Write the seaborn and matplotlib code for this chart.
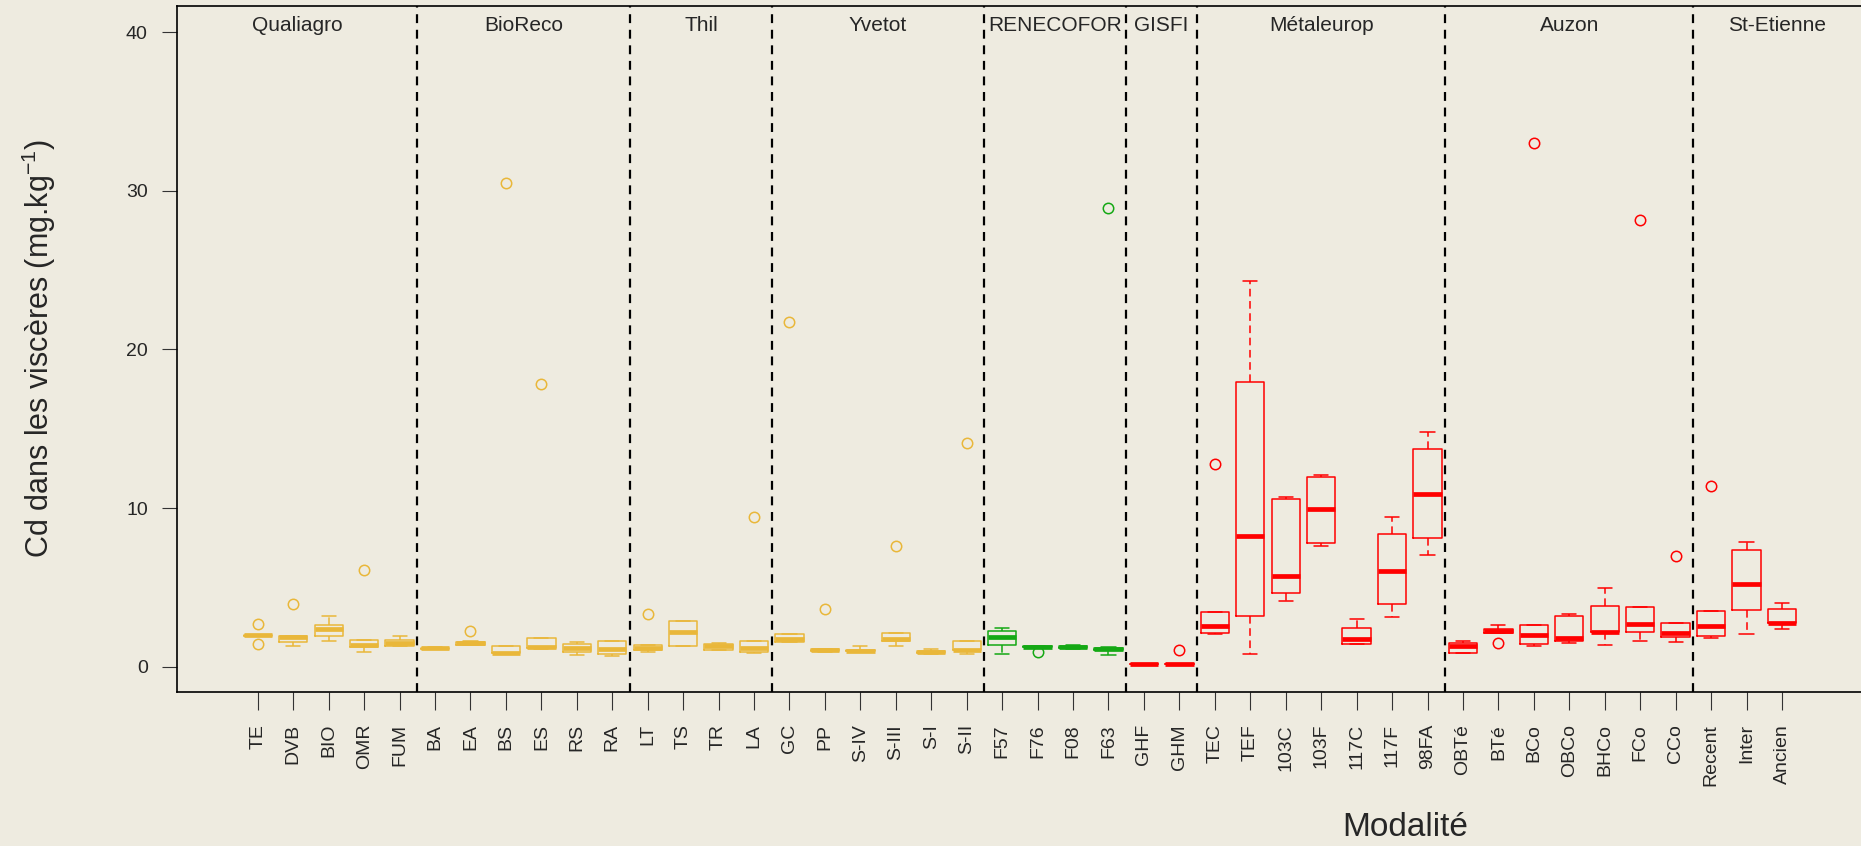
import numpy as np
import pandas as pd
import seaborn as sns
import matplotlib.pyplot as plt

# sites (groups of modalities) and their colours
sites = ["Qualiagro", "BioReco", "Thil", "Yvetot", "RENECOFOR", "GISFI",
         "Métaleurop", "Auzon", "St-Etienne"]
site_n = [5, 6, 4, 6, 4, 2, 7, 7, 3]
site_col = ["#E9B73A"] * 4 + ["#14A814"] + ["#FF0000"] * 4

names = ["TE", "DVB", "BIO", "OMR", "FUM",
         "BA", "EA", "BS", "ES", "RS", "RA",
         "LT", "TS", "TR", "LA",
         "GC", "PP", "S-IV", "S-III", "S-I", "S-II",
         "F57", "F76", "F08", "F63",
         "GHF", "GHM",
         "TEC", "TEF", "103C", "103F", "117C", "117F", "98FA",
         "OBTé", "BTé", "BCo", "OBCo", "BHCo", "FCo", "CCo",
         "Recent", "Inter", "Ancien"]

# five-number summaries
lo = [1.92, 1.30, 1.64, 0.91, 1.33,
      1.10, 1.35, 0.82, 1.14, 0.74, 0.66,
      0.91, 1.29, 1.05, 0.85,
      1.56, 0.93, 0.93, 1.30, 0.82, 0.82,
      0.80, 1.20, 1.10, 0.74,
      0.15, 0.15,
      2.06, 0.82, 4.16, 7.59, 1.40, 3.11, 7.02,
      0.88, 2.13, 1.30, 1.47, 1.39, 1.62, 1.54,
      1.81, 2.04, 2.38]
q1 = [1.92, 1.54, 1.96, 1.22, 1.33,
      1.12, 1.38, 0.84, 1.16, 0.91, 0.82,
      1.03, 1.29, 1.05, 0.93,
      1.56, 0.98, 0.96, 1.64, 0.86, 1.05,
      1.37, 1.22, 1.15, 1.05,
      0.16, 0.16,
      2.10, 3.18, 4.67, 7.82, 1.45, 3.93, 8.09,
      0.88, 2.15, 1.45, 1.64, 2.21, 2.19, 1.87,
      1.96, 3.60, 2.78]
med = [1.97, 1.87, 2.36, 1.39, 1.51,
       1.16, 1.49, 0.88, 1.22, 1.16, 1.10,
       1.16, 2.21, 1.30, 1.18,
       1.72, 1.07, 0.99, 1.72, 0.91, 1.07,
       1.89, 1.24, 1.22, 1.14,
       0.17, 0.17,
       2.55, 8.26, 5.72, 9.96, 1.73, 6.03, 10.87,
       1.33, 2.27, 1.98, 1.79, 2.21, 2.71, 2.12,
       2.54, 5.24, 2.78]
q3 = [2.02, 1.96, 2.63, 1.66, 1.68,
      1.20, 1.56, 1.30, 1.79, 1.41, 1.62,
      1.39, 2.86, 1.43, 1.64,
      2.06, 1.10, 1.04, 2.14, 1.00, 1.64,
      2.23, 1.27, 1.30, 1.18,
      0.18, 0.18,
      3.45, 17.97, 10.55, 11.94, 2.46, 8.35, 13.73,
      1.47, 2.38, 2.61, 3.18, 3.85, 3.76, 2.77,
      3.53, 7.36, 3.62]
hi = [2.02, 1.96, 3.20, 1.66, 1.94,
      1.22, 1.60, 1.30, 1.79, 1.56, 1.64,
      1.39, 2.86, 1.47, 1.64,
      2.06, 1.13, 1.30, 2.14, 1.13, 1.64,
      2.44, 1.30, 1.37, 1.22,
      0.19, 0.19,
      3.45, 24.30, 10.70, 12.09, 3.03, 9.46, 14.78,
      1.64, 2.61, 2.61, 3.34, 4.98, 3.76, 2.77,
      3.53, 7.84, 4.02]

outliers = {"TE": [2.67, 1.45], "DVB": [3.97], "OMR": [6.10], "EA": [2.25],
            "BS": [30.49], "ES": [17.85], "LT": [3.32], "LA": [9.44],
            "GC": [21.75], "PP": [3.64], "S-III": [7.63], "S-II": [14.08],
            "F76": [0.95], "F63": [28.94], "GHM": [1.05], "TEC": [12.78],
            "BTé": [1.51], "BCo": [33.04], "FCo": [28.15], "CCo": [6.98],
            "Recent": [11.39]}

bg = "#EEEBE0"
sns.set_style("ticks", {"axes.facecolor": bg, "figure.facecolor": bg})
plt.rcParams["font.family"] = ["Liberation Sans", "DejaVu Sans"]
plt.rcParams["mathtext.default"] = "regular"

colors = [c for c, n in zip(site_col, site_n) for _ in range(n)]
pal = dict(zip(names, colors))

rows = []
for i, n in enumerate(names):
    for v in (lo[i], q1[i], med[i], q3[i], hi[i]):
        rows.append((n, v))
df = pd.DataFrame(rows, columns=["Modalité", "Cd"])

fig = plt.figure(figsize=(18.61, 8.46), dpi=100)
ax = fig.add_axes([177 / 1861, 154 / 846, 1 - 177 / 1861, 686 / 846])

sns.boxplot(data=df, x="Modalité", y="Cd", hue="Modalité", order=names,
            hue_order=names, palette=pal, fill=False, dodge=False,
            whis=(0, 100), width=0.8, linewidth=1.1, showfliers=False,
            medianprops=dict(linewidth=3.4, solid_capstyle="butt"),
            whiskerprops=dict(linestyle=(0, (5, 3))),
            legend=False, ax=ax)

for n, vals in outliers.items():
    i = names.index(n)
    ax.plot([i] * len(vals), vals, "o", mfc="none", mec=pal[n], ms=7.5, mew=1.1)

xl, xr = -2.28, 45.23
ax.set_xlim(xl, xr)
ax.set_ylim(-1.6, 41.66)

bounds = list(np.cumsum(site_n)[:-1] - 0.5)
for b in bounds:
    ax.axvline(b, color="black", lw=1.6, ls=(0, (4, 3)))
edges = [xl] + bounds + [xr]
for k, s in enumerate(sites):
    ax.text((edges[k] + edges[k + 1]) / 2, 40.4, s, ha="center", va="center",
            fontsize=15)

ax.set_xticks(range(len(names)))
ax.set_xticklabels(names, rotation=90)
ax.set_yticks([0, 10, 20, 30, 40])
ax.tick_params(axis="x", length=13, pad=10, labelsize=14, color="#333333")
ax.tick_params(axis="y", length=11, pad=10, labelsize=14, color="#333333")
ax.set_xlabel("")
ax.set_ylabel("")
ax.spines["right"].set_visible(False)
for s in ("left", "bottom", "top"):
    ax.spines[s].set_linewidth(1.2)
    ax.spines[s].set_color("black")

fig.text(39 / 1861, 1 - 349 / 846, "Cd dans les viscères (mg.kg$^{-1}$)",
         rotation=90, ha="center", va="center", fontsize=22)
fig.text(1405 / 1861, 1 - 827 / 846, "Modalité", ha="center", va="center",
         fontsize=24)

fig.savefig("out.png", dpi=100, facecolor=bg)
